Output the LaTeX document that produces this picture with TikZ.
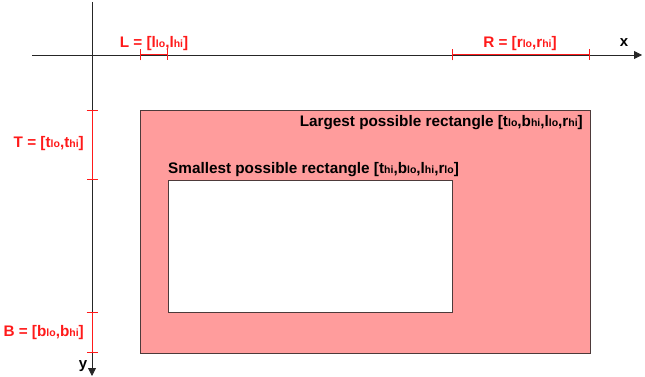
\documentclass[tikz,border=0pt]{standalone}
\usepackage{fontspec}
\setmainfont{Liberation Sans}[BoldFont={Liberation Sans Bold}]
\usetikzlibrary{arrows.meta}
\definecolor{boundred}{HTML}{FF1A1A}
\definecolor{rectpink}{HTML}{FF9C9C}
\definecolor{rectedge}{HTML}{4D3A3A}
\newcommand{\lohi}[1]{{\fontsize{10.5}{11}\selectfont #1}}
\tikzset{
  axis/.style={draw=black!85, line width=0.8pt, -{Triangle[length=8pt,width=8pt]}},
  bound/.style={draw=boundred, line width=1pt,
                {Bar[width=11pt,line width=1pt]}-{Bar[width=11pt,line width=1pt]}},
  boundlab/.style={text=boundred, font=\fontsize{15.3}{17}\selectfont\bfseries, inner sep=0pt},
  axlab/.style={font=\fontsize{15}{16}\selectfont\bfseries, inner sep=0pt},
  bigrect/.style={fill=rectpink, draw=rectedge, line width=0.8pt},
  smallrect/.style={fill=white, draw=rectedge, line width=0.8pt},
  rectlab/.style={font=\fontsize{15.3}{17}\selectfont\bfseries, inner sep=0pt}
}

\begin{document}
\begin{tikzpicture}[x=1pt,y=-1pt]
  \useasboundingbox (0,0) rectangle (645,377);
  % axes
  \coordinate (xstart) at (32,55);
  \coordinate (xend) at (642,55);
  \coordinate (ystart) at (92,2);
  \coordinate (yend) at (92,376);
  % interval ends
  \coordinate (llo) at (140,55);
  \coordinate (lhi) at (168,55);
  \coordinate (rlo) at (452,55);
  \coordinate (rhi) at (590,55);
  \coordinate (tlo) at (92,110);
  \coordinate (thi) at (92,180);
  \coordinate (blo) at (92,312);
  \coordinate (bhi) at (92,353);
  % rectangles
  \draw[bigrect] (llo |- tlo) rectangle (rhi |- bhi);
  \draw[smallrect] (lhi |- thi) rectangle (rlo |- blo);
  \draw[axis] (xstart) -- (xend);
  \draw[axis] (ystart) -- (yend);
  \draw[bound] (llo) -- (lhi);
  \draw[bound] (rlo) -- (rhi);
  \draw[bound] (tlo) -- (thi);
  \draw[bound] (blo) -- (bhi);
  % labels
  \node[axlab] (xlab) at (624,43) {x};
  \node[axlab] (ylab) at (83,366) {y};
  \node[boundlab] (llab) at (154,44) {L = [l\lohi{lo},l\lohi{hi}]};
  \node[boundlab] (rlab) at (520,44) {R = [r\lohi{lo},r\lohi{hi}]};
  \node[boundlab, anchor=east] (tlab) at (84,144) {T = [t\lohi{lo},t\lohi{hi}]};
  \node[boundlab, anchor=east] (blab) at (84,333) {B = [b\lohi{lo},b\lohi{hi}]};
  \node[rectlab, anchor=east] (biglab) at (583,123)
    {Largest possible rectangle [t\lohi{lo},b\lohi{hi},l\lohi{lo},r\lohi{hi}]};
  \node[rectlab, anchor=west] (smalllab) at (168,170)
    {Smallest possible rectangle [t\lohi{hi},b\lohi{lo},l\lohi{hi},r\lohi{lo}]};
\end{tikzpicture}
\end{document}
